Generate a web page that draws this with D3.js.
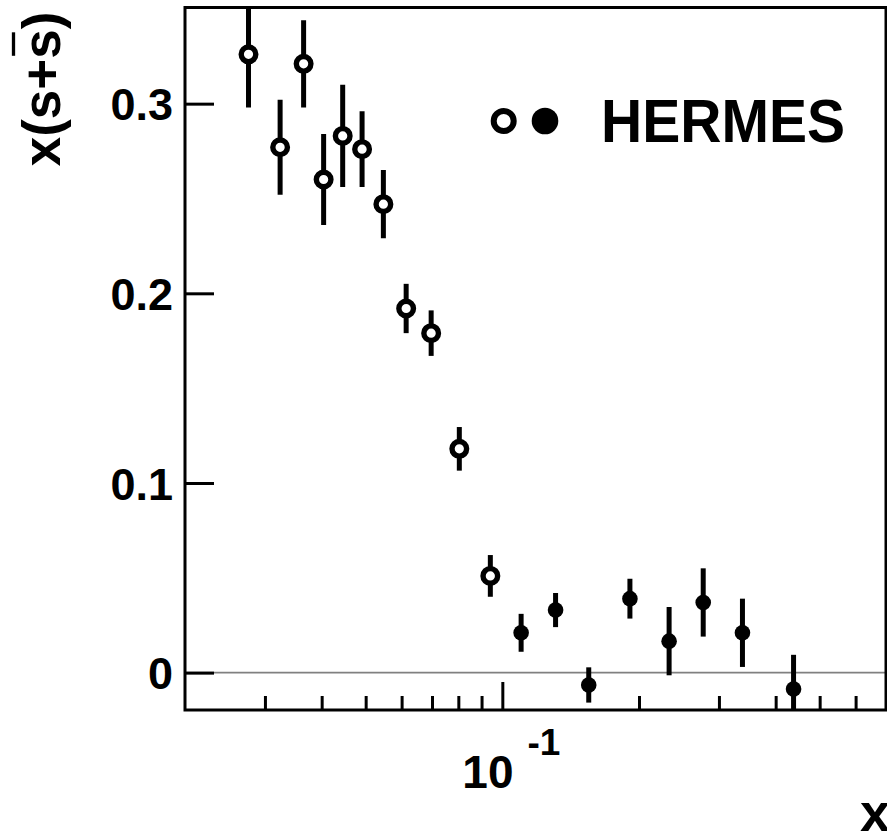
<!DOCTYPE html>
<html>
<head>
<meta charset="utf-8">
<script src="https://cdn.jsdelivr.net/npm/d3@7"></script>
<style>
  html, body { margin: 0; padding: 0; background: #fff; }
  svg { display: block; }
  text { font-family: "Liberation Sans", Arial, Helvetica, sans-serif; font-weight: bold; fill: #000; }
</style>
</head>
<body>
<svg id="chart" width="887" height="832"></svg>
<script>
// Strange-quark distribution x(s+sbar) versus x (HERMES)
const xOpen   = [0.0276, 0.0324, 0.0365, 0.0404, 0.0445, 0.0491, 0.0547, 0.0614, 0.0697, 0.0804, 0.0941];
const yOpen   = [0.326, 0.277, 0.321, 0.260, 0.283, 0.276, 0.247, 0.192, 0.179, 0.118, 0.051];
const errOpen = [0.028, 0.025, 0.023, 0.024, 0.027, 0.020, 0.018, 0.013, 0.012, 0.0115, 0.011];

const xFilled   = [0.110, 0.131, 0.155, 0.191, 0.233, 0.277, 0.338, 0.438];
const yFilled   = [0.021, 0.033, -0.0065, 0.039, 0.0166, 0.037, 0.021, -0.0086];
const errFilled = [0.010, 0.009, 0.0093, 0.0105, 0.018, 0.018, 0.018, 0.018];

const xMinorTicks = [0.03, 0.04, 0.05, 0.06, 0.07, 0.08, 0.09, 0.2, 0.3, 0.4, 0.5, 0.6];
const xMajorTicks = [0.1];
const yTicks = [0, 0.1, 0.2, 0.3];
const yTickLabels = ["0", "0.1", "0.2", "0.3"];
const legendLabel = "HERMES";

const frame = { left: 185, right: 886, top: 7.5, bottom: 710 };
const svg = d3.select("#chart");

const x = d3.scaleLog().domain([0.02, 0.7]).range([frame.left, frame.right]);
const y = d3.scaleLinear().domain([-0.0197, 0.3507]).range([frame.bottom, frame.top]);

svg.append("defs").append("clipPath").attr("id", "frameClip")
  .append("rect")
  .attr("x", frame.left).attr("y", frame.top)
  .attr("width", frame.right - frame.left).attr("height", frame.bottom - frame.top);

// zero reference line
svg.append("line")
  .attr("x1", frame.left).attr("x2", frame.right)
  .attr("y1", y(0)).attr("y2", y(0))
  .attr("stroke", "#808080").attr("stroke-width", 1.6);

const plot = svg.append("g").attr("clip-path", "url(#frameClip)");

const openData = xOpen.map((v, i) => ({ x: v, y: yOpen[i], e: errOpen[i] }));
const filledData = xFilled.map((v, i) => ({ x: v, y: yFilled[i], e: errFilled[i] }));
const allData = openData.concat(filledData);

plot.selectAll("line.err").data(allData).enter().append("line")
  .attr("class", "err")
  .attr("x1", d => x(d.x)).attr("x2", d => x(d.x))
  .attr("y1", d => y(d.y + d.e)).attr("y2", d => y(d.y - d.e))
  .attr("stroke", "#000").attr("stroke-width", 5);

plot.selectAll("circle.open").data(openData).enter().append("circle")
  .attr("class", "open")
  .attr("cx", d => x(d.x)).attr("cy", d => y(d.y))
  .attr("r", 7.3)
  .attr("fill", "#fff").attr("stroke", "#000").attr("stroke-width", 5.4);

plot.selectAll("circle.filled").data(filledData).enter().append("circle")
  .attr("class", "filled")
  .attr("cx", d => x(d.x)).attr("cy", d => y(d.y))
  .attr("r", 7.8)
  .attr("fill", "#000");

// frame box
svg.append("rect")
  .attr("x", frame.left).attr("y", frame.top)
  .attr("width", frame.right - frame.left).attr("height", frame.bottom - frame.top)
  .attr("fill", "none").attr("stroke", "#000").attr("stroke-width", 3);

// y axis, ticks pointing into the frame
const yAxis = svg.append("g")
  .attr("transform", `translate(${frame.left},0)`)
  .call(d3.axisLeft(y).tickValues(yTicks).tickSize(-29).tickPadding(12)
    .tickFormat((d, i) => yTickLabels[i]));
yAxis.select(".domain").remove();
yAxis.selectAll(".tick line").attr("stroke", "#000").attr("stroke-width", 3);
yAxis.selectAll(".tick text")
  .attr("font-size", 45).attr("font-family", null).attr("dy", "0.36em");
yAxis.attr("font-family", null).attr("font-size", null);

// x axis: minor and major ticks
const xMinor = svg.append("g")
  .attr("transform", `translate(0,${frame.bottom})`)
  .call(d3.axisBottom(x).tickValues(xMinorTicks).tickSize(-14).tickFormat(""));
xMinor.select(".domain").remove();
xMinor.selectAll(".tick line").attr("stroke", "#000").attr("stroke-width", 3);

const xMajor = svg.append("g")
  .attr("transform", `translate(0,${frame.bottom})`)
  .call(d3.axisBottom(x).tickValues(xMajorTicks).tickSize(-28).tickFormat(""));
xMajor.select(".domain").remove();
xMajor.selectAll(".tick line").attr("stroke", "#000").attr("stroke-width", 3);

// power-of-ten label
xMajorTicks.forEach(v => {
  const t = svg.append("text").attr("x", x(v) - 40).attr("y", 788).attr("font-size", 46);
  t.append("tspan").text("10");
  t.append("tspan").attr("dx", 14).attr("dy", -33).attr("font-size", 37).text("-1");
});

// axis titles
svg.append("text")
  .attr("x", 860).attr("y", 831).attr("font-size", 54).text("x");

const yTitle = svg.append("g").attr("transform", "translate(60,89) rotate(-90)");
const yTitleText = yTitle.append("text")
  .attr("x", 0).attr("y", 0).attr("text-anchor", "middle").attr("font-size", 53)
  .text("x(s+s)");
const sExt = yTitleText.node().getExtentOfChar(4);
yTitle.append("line")
  .attr("x1", sExt.x + 3).attr("x2", sExt.x + sExt.width - 3)
  .attr("y1", -46.5).attr("y2", -46.5)
  .attr("stroke", "#000").attr("stroke-width", 3.3);

// legend
const legend = svg.append("g");
legend.append("circle").attr("cx", 503.7).attr("cy", 121).attr("r", 10)
  .attr("fill", "#fff").attr("stroke", "#000").attr("stroke-width", 6);
legend.append("circle").attr("cx", 545).attr("cy", 121).attr("r", 13.3).attr("fill", "#000");
legend.append("text").attr("x", 601).attr("y", 141.7).attr("font-size", 62)
  .attr("textLength", 244).attr("lengthAdjust", "spacingAndGlyphs")
  .text(legendLabel);
</script>
</body>
</html>
